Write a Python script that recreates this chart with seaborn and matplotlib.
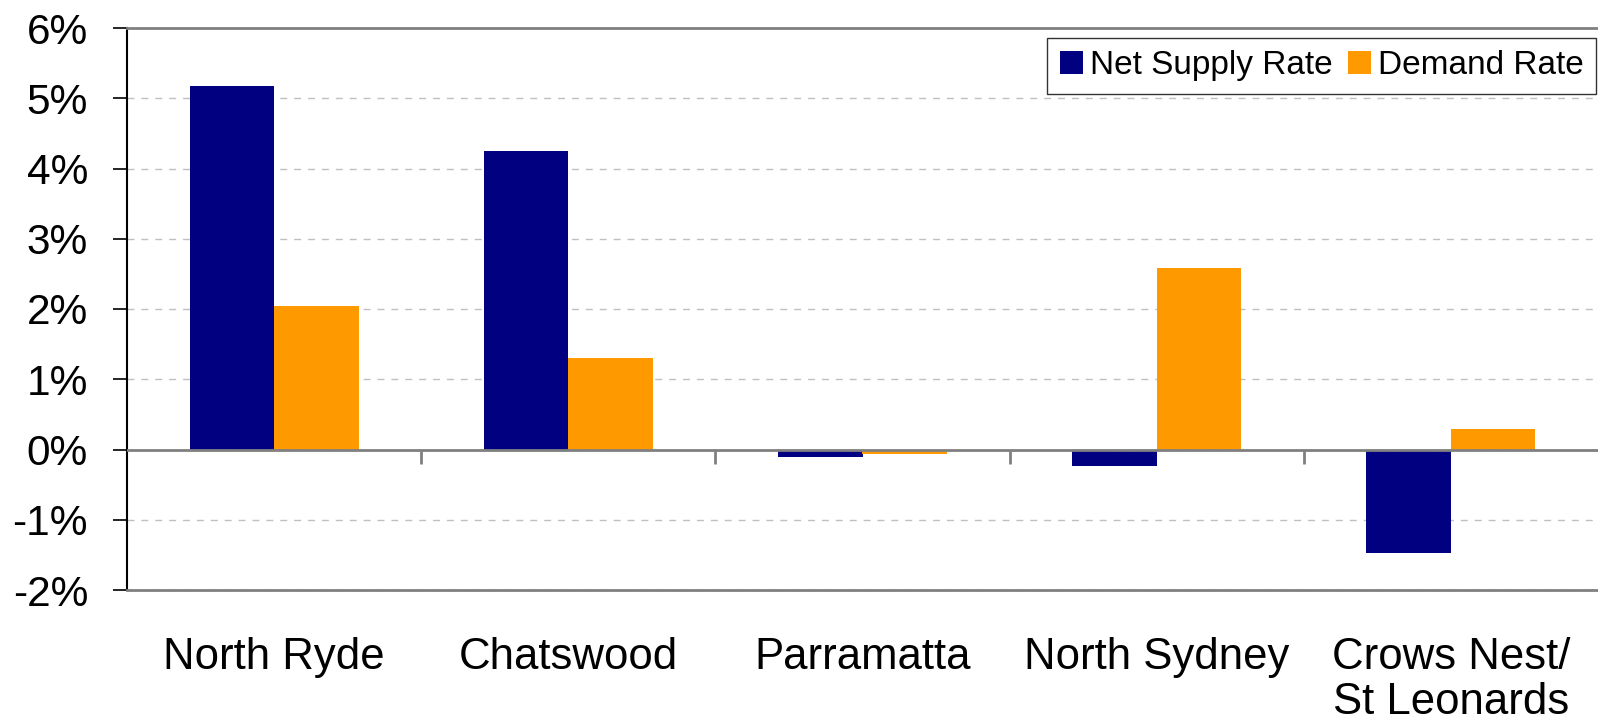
import matplotlib
matplotlib.use("Agg")
import matplotlib.pyplot as plt
import seaborn as sns
import pandas as pd
import numpy as np

regions = ["North Ryde", "Chatswood", "Parramatta", "North Sydney", "Crows Nest/\nSt Leonards"]
net_supply = [5.17, 4.25, -0.10, -0.24, -1.48]
demand = [2.04, 1.30, -0.06, 2.59, 0.29]
series_names = ["Net Supply Rate", "Demand Rate"]
y_ticks = [-2, -1, 0, 1, 2, 3, 4, 5, 6]

df = pd.DataFrame({
    "region": regions * 2,
    "series": [series_names[0]] * len(regions) + [series_names[1]] * len(regions),
    "value": net_supply + demand,
})

sns.set_style("white")
plt.rcParams["font.family"] = ["Liberation Sans", "DejaVu Sans"]
plt.rcParams["text.color"] = "black"
plt.rcParams["xtick.color"] = "black"
plt.rcParams["ytick.color"] = "black"
plt.rcParams["xtick.labelcolor"] = "black"
plt.rcParams["ytick.labelcolor"] = "black"

fig = plt.figure(figsize=(15.98, 7.28), dpi=100)
ax = fig.add_axes([127 / 1598, 1 - 590 / 728, 1 - 127 / 1598, (590 - 28) / 728])

sns.barplot(data=df, x="region", y="value", hue="series", order=regions,
            hue_order=series_names, palette=["#000080", "#FF9900"],
            width=0.575, saturation=1, dodge=True, ax=ax, zorder=2,
            linewidth=0, edgecolor="none")

ax.set_xlim(-0.5, len(regions) - 0.5)
ax.set_ylim(-2, 6)
ax.set_yticks(y_ticks)
ax.set_yticklabels([f"{t}%" for t in y_ticks])
ax.set_xlabel("")
ax.set_ylabel("")

ax.set_axisbelow(True)
ax.yaxis.grid(True, color="#c0c0c0", linestyle=(0, (5, 5)), linewidth=1.0)
ax.xaxis.grid(False)

ax.axhline(0, color="#808080", linewidth=2, zorder=3)
bounds = np.arange(len(regions) - 1) + 0.5
ax.vlines(bounds, -0.2, 0, color="#808080", linewidth=2, zorder=3)

for s in ["top", "bottom"]:
    ax.spines[s].set_color("#808080")
    ax.spines[s].set_linewidth(2)
ax.spines["left"].set_color("#000000")
ax.spines["left"].set_linewidth(1.5)
ax.spines["right"].set_visible(False)

ax.tick_params(axis="y", which="major", direction="out", length=10, width=1.2,
               color="black", left=True, pad=18, labelsize=30.5, labelcolor="black")
ax.tick_params(axis="x", which="major", length=0, pad=34, labelsize=31.5, labelcolor="black")
for lbl in ax.get_xticklabels():
    lbl.set_linespacing(1.12)

handles, labels = ax.get_legend_handles_labels()
leg = ax.legend(handles, labels, loc="upper right",
                bbox_to_anchor=(0.9986, 0.9827), borderaxespad=0,
                ncol=2, fontsize=24, frameon=True, fancybox=False,
                edgecolor="black", handlelength=0.7, handleheight=0.7,
                handletextpad=0.2, columnspacing=0.45, borderpad=0.38)
leg.get_frame().set_linewidth(1.0)
for t in leg.get_texts():
    t.set_color("black")

fig.savefig("out.png", dpi=100, facecolor="white")
